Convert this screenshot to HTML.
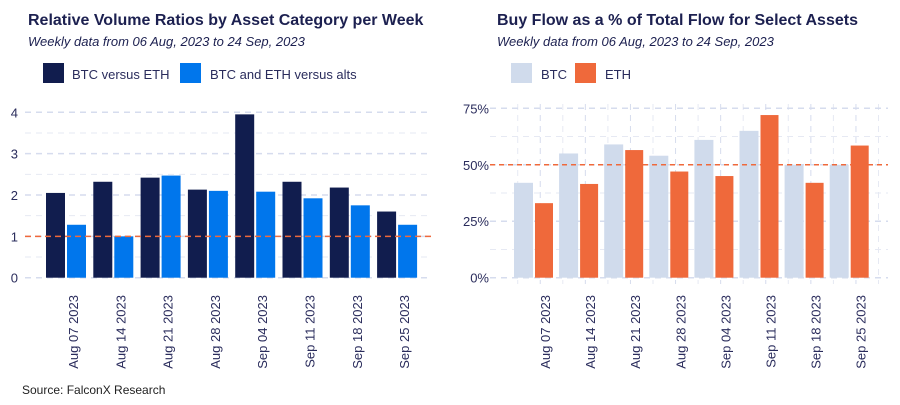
<!DOCTYPE html>
<html><head><meta charset="utf-8"><style>
body{margin:0;background:#fff;font-family:"Liberation Sans",sans-serif;}
svg text{font-family:"Liberation Sans",sans-serif;}
</style></head><body>
<svg id="c" width="900" height="400" xmlns="http://www.w3.org/2000/svg">
<text x="28" y="25" font-size="16" font-weight="bold" fill="#1c2050">Relative Volume Ratios by Asset Category per Week</text>
<text x="28" y="46" font-size="13" font-style="italic" fill="#1c2050">Weekly data from 06 Aug, 2023 to 24 Sep, 2023</text>
<rect x="43" y="63" width="21" height="20" fill="#111d4e"/>
<text x="72" y="79" font-size="13" fill="#2a2c5c">BTC versus ETH</text>
<rect x="180" y="63" width="21" height="20" fill="#0076ec"/>
<text x="210" y="79" font-size="13" fill="#2a2c5c">BTC and ETH versus alts</text>
<text x="497" y="25" font-size="16" font-weight="bold" fill="#1c2050">Buy Flow as a % of Total Flow for Select Assets</text>
<text x="497" y="46" font-size="13" font-style="italic" fill="#1c2050">Weekly data from 06 Aug, 2023 to 24 Sep, 2023</text>
<rect x="511" y="63" width="21" height="20" fill="#d0dbec"/>
<text x="541" y="79" font-size="13" fill="#2a2c5c">BTC</text>
<rect x="575" y="63" width="21" height="20" fill="#ef693b"/>
<text x="605" y="79" font-size="13" fill="#2a2c5c">ETH</text>
<text x="22" y="394" font-size="12" fill="#222">Source: FalconX Research</text>
<g id="L"></g><g id="R"></g>
</svg>
<script>
const dates=["Aug 07 2023","Aug 14 2023","Aug 21 2023","Aug 28 2023","Sep 04 2023","Sep 11 2023","Sep 18 2023","Sep 25 2023"];
const btcEth=[2.05,2.32,2.42,2.13,3.95,2.32,2.18,1.6];
const btcEthAlts=[1.28,1.0,2.47,2.1,2.08,1.92,1.75,1.28];
const leftTicks=[0,1,2,3,4];
const btcBuy=[42,55,59,54,61,65,50,50];
const ethBuy=[33,41.5,56.5,47,45,72,42,58.5];
const rightTicks=[0,25,50,75];
const NS="http://www.w3.org/2000/svg";
function mk(p,t,a){const e=document.createElementNS(NS,t);for(const k in a)e.setAttribute(k,a[k]);p.appendChild(e);return e;}
// Left chart
const L=document.getElementById('L');
const ly=v=>277.7-v*41.35;
const lx=i=>46+i*47.3;
for(let v=0;v<=4.5;v+=0.5){if(v>4.4)break;
 const g=mk(L,'line',{x1:25,x2:432,y1:ly(v),y2:ly(v),stroke:Number.isInteger(v)?'#d6dcee':'#e6e9f3','stroke-width':Number.isInteger(v)?1.5:1,'stroke-dasharray':'6,5'});
 
 }
leftTicks.forEach(v=>{const t=mk(L,'text',{x:18,y:ly(v)+5,'font-size':13,fill:'#2a2c5c','text-anchor':'end'});t.textContent=v;
 
 });
dates.forEach((d,i)=>{
 const a=mk(L,'rect',{x:lx(i),y:ly(btcEth[i]),width:19,height:ly(0)-ly(btcEth[i]),fill:'#111d4e'});
 
 
 const b=mk(L,'rect',{x:lx(i)+21,y:ly(btcEthAlts[i]),width:19,height:ly(0)-ly(btcEthAlts[i]),fill:'#0076ec'});
 
 
 const tx=lx(i)+27;
 const t=mk(L,'text',{x:0,y:0,'font-size':13,fill:'#2a2c5c','text-anchor':'end',transform:`translate(${tx+5},295) rotate(-90)`});t.textContent=d;
 
 
});
const rl=mk(L,'line',{x1:25,x2:432,y1:ly(1),y2:ly(1),stroke:'#ef693b','stroke-width':1.5,'stroke-dasharray':'6,4'});


// Right chart
const R=document.getElementById('R');
const ry=v=>277.7-v*2.259;
const rx=i=>514+i*45.1;
for(let i=0;i<17;i++){const x=517.7+i*22.55;
 const g=mk(R,'line',{x1:x,x2:x,y1:104,y2:284,stroke:i%2?'#d6dcee':'#e6e9f3','stroke-width':1,'stroke-dasharray':'6,5'});
 
 }
for(let v=0;v<=75;v+=12.5){const maj=v%25===0;
 const g=mk(R,'line',{x1:490,x2:888,y1:ry(v),y2:ry(v),stroke:maj?'#d6dcee':'#e6e9f3','stroke-width':maj?1.5:1,'stroke-dasharray':'6,5'});
 
 }
rightTicks.forEach(v=>{const t=mk(R,'text',{x:489,y:ry(v)+5,'font-size':13,fill:'#2a2c5c','text-anchor':'end'});t.textContent=v+'%';
 
 });
dates.forEach((d,i)=>{
 const a=mk(R,'rect',{x:rx(i),y:ry(btcBuy[i]),width:19,height:ry(0)-ry(btcBuy[i]),fill:'#d0dbec'});
 
 
 const b=mk(R,'rect',{x:rx(i)+21,y:ry(ethBuy[i]),width:18,height:ry(0)-ry(ethBuy[i]),fill:'#ef693b'});
 
 
 const tx=rx(i)+31;
 const t=mk(R,'text',{x:0,y:0,'font-size':13,fill:'#2a2c5c','text-anchor':'end',transform:`translate(${tx+5},295) rotate(-90)`});t.textContent=d;
 
 
});
const rr=mk(R,'line',{x1:490,x2:888,y1:ry(50),y2:ry(50),stroke:'#ef693b','stroke-width':1.5,'stroke-dasharray':'5,4'});


</script>
</body></html>
